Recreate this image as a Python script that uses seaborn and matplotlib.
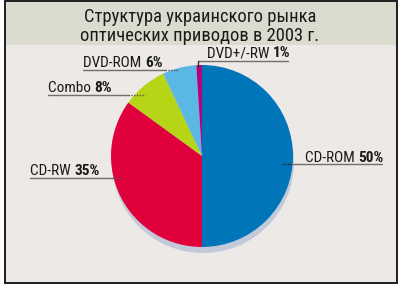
import matplotlib
matplotlib.use("Agg")
import matplotlib.pyplot as plt
import seaborn as sns
from matplotlib.patches import Rectangle, Circle

categories = ["CD-ROM", "CD-RW", "Combo", "DVD-ROM", "DVD+/-RW"]
values = [50, 35, 8, 6, 1]
colors = ["#0075b9", "#e0003c", "#b7d517", "#5bb8e4", "#b5007d"]
title_lines = ["Структура украинского рынка", "оптических приводов в 2003 г."]

sns.set_style("white")
plt.rcParams["font.family"] = ["Roboto Condensed", "PT Sans Narrow", "DejaVu Sans"]

W, H = 400, 287
fig = plt.figure(figsize=(W / 100, H / 100), dpi=100)
ax = fig.add_axes([0, 0, 1, 1])

def Y(y):
    return H - y

# frame and backgrounds
ax.add_patch(Rectangle((5, Y(283)), 392, 282, facecolor="#ece9e7", edgecolor="none", zorder=0))
ax.add_patch(Rectangle((5, Y(45)), 392, 44, facecolor="#dbdccf", edgecolor="none", zorder=0))
ax.add_patch(Rectangle((5, Y(283)), 392, 282, facecolor="none", edgecolor="#1e1e1e", lw=1.4, zorder=5))

# title
ax.text(200, Y(22), title_lines[0], ha="center", va="baseline", fontsize=13.3, color="#1a1a1a")
ax.text(200, Y(41), title_lines[1], ha="center", va="baseline", fontsize=13.3, color="#1a1a1a")

cx, cy, r = 202, Y(156), 91
# shadow
ax.add_patch(Circle((cx + 1, cy - 6), r, facecolor="#c2cad9", edgecolor="none", zorder=1))
ax.pie(values, colors=colors, startangle=90, counterclock=False, center=(cx, cy),
       radius=r, wedgeprops=dict(linewidth=0, zorder=2), frame=True)
ax.set_xlim(0, W)
ax.set_ylim(0, H)
ax.set_aspect("equal")
ax.axis("off")

# labels: (left x, baseline y, underline y, underline end x, line start x, pie-edge x)
label_pos = {
    "CD-ROM": (305, 162, 164, 382, 282, 293),
    "CD-RW": (30, 175, 178, 123, 30, 112),
    "Combo": (48, 92, 95, 145, 48, 128),
    "DVD-ROM": (83, 67, 70, 178, 83, 165),
    "DVD+/-RW": (207, 57, 61, 288, 198, None),
}
fig.canvas.draw()
renderer = fig.canvas.get_renderer()
inv = ax.transData.inverted()
fs = 11
for name, val in zip(categories, values):
    x0, yb, yu, xe, xs, xin = label_pos[name]
    t = ax.text(x0, Y(yb), name + " ", ha="left", va="baseline", fontsize=fs, color="#1a1a1a", zorder=6)
    bb = t.get_window_extent(renderer=renderer)
    xend = inv.transform((bb.x1, bb.y0))[0]
    ax.text(xend, Y(yb), f"{val}%", ha="left", va="baseline", fontsize=fs,
            fontweight="bold", color="#1a1a1a", zorder=6)
    if name == "CD-ROM":
        ax.plot([xin, xe], [Y(yu), Y(yu)], color="#707070", lw=1, zorder=6)
        ax.plot([xs, xin], [Y(yu), Y(yu)], color="#222222", lw=1, ls=(0, (1, 1)), zorder=6)
    elif xin is not None:
        ax.plot([xs, xin], [Y(yu), Y(yu)], color="#707070", lw=1, zorder=6)
        ax.plot([xin, xe], [Y(yu), Y(yu)], color="#555555", lw=1, ls=(0, (1, 1)), zorder=6)
    else:
        ax.plot([xs, xe], [Y(yu), Y(yu)], color="#707070", lw=1, zorder=6)
        ax.plot([xs, xs], [Y(yu), Y(67)], color="#333333", lw=1, zorder=6)

fig.savefig("out.png", dpi=100, facecolor="white")
